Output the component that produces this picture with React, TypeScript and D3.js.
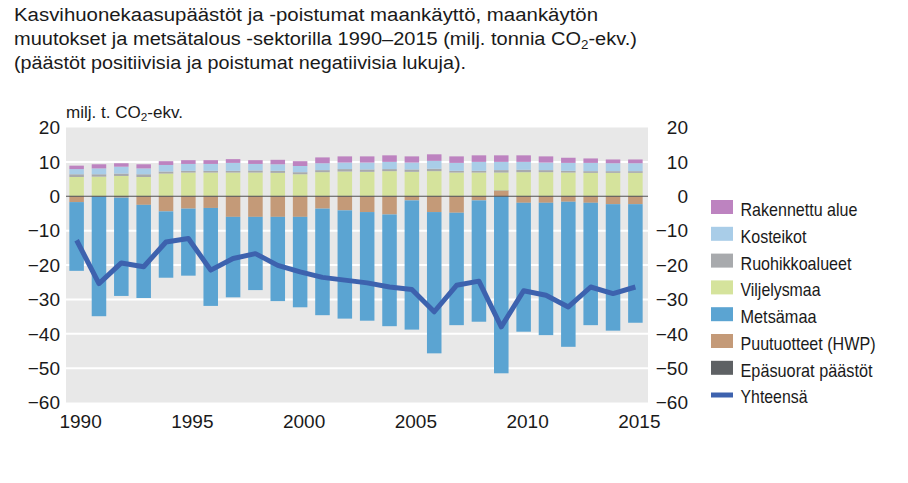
import React from 'react';
import * as d3 from 'd3';

const years = [1990,1991,1992,1993,1994,1995,1996,1997,1998,1999,2000,2001,2002,2003,2004,2005,2006,2007,2008,2009,2010,2011,2012,2013,2014,2015];
const rakennettu = [1.0,1.2,1.0,1.2,1.1,1.1,1.1,1.1,1.1,1.3,1.4,1.7,1.8,1.8,1.9,1.8,1.9,1.9,1.9,1.9,1.9,1.8,1.5,1.3,1.1,1.1];
const kosteikot = [1.5,1.7,2.0,1.7,1.9,2.0,2.0,2.3,1.9,1.9,1.8,2.0,1.9,2.0,2.1,2.0,2.3,2.3,2.6,2.4,2.3,2.2,2.3,2.4,2.3,2.3];
const ruohikko = [0.8,0.7,0.7,0.8,0.6,0.5,0.5,0.5,0.6,0.6,0.6,0.6,0.7,0.7,0.6,0.7,0.7,0.5,0.5,0.7,0.7,0.6,0.5,0.5,0.5,0.5];
const viljely = [5.5,5.6,5.8,5.5,6.5,6.8,6.8,6.8,6.8,6.7,6.3,6.9,7.1,7.0,7.2,7.0,7.2,6.8,6.8,5.2,6.9,6.9,6.8,6.7,6.7,6.7];
const metsa = [-20.0,-34.8,-28.6,-27.1,-19.3,-19.5,-28.5,-23.4,-21.3,-24.5,-26.3,-31.0,-31.5,-31.6,-32.5,-37.6,-41.1,-32.7,-35.3,-51.5,-37.5,-38.5,-42.2,-35.6,-36.8,-34.5];
const hwp = [-1.7,-0.1,-0.4,-2.5,-4.4,-3.6,-3.4,-6.0,-6.0,-6.0,-6.0,-3.6,-4.1,-4.6,-5.3,-1.2,-4.6,-4.8,-1.2,1.6,-1.9,-1.9,-1.6,-1.9,-2.3,-2.3];
const epasuorat = [0.1,0.1,0.1,0.1,0.1,0.1,0.1,0.1,0.1,0.1,0.1,0.1,0.1,0.1,0.1,0.1,0.1,0.1,0.1,0.1,0.1,0.1,0.1,0.1,0.1,0.1];
const yhteensa = [-12.8,-25.4,-19.4,-20.5,-13.3,-12.3,-21.5,-18.1,-16.7,-20.1,-22.0,-23.6,-24.4,-25.2,-26.4,-27.1,-33.6,-25.9,-24.7,-38.0,-27.5,-28.8,-32.2,-26.4,-28.3,-26.4];

const yTicks = [20,10,0,-10,-20,-30,-40,-50,-60];
const xTickYears = [1990,1995,2000,2005,2010,2015];

const seriesInfo = [
  { key: 'hwp', label: 'Puutuotteet (HWP)', color: '#c49a78', data: hwp },
  { key: 'epasuorat', label: 'Epäsuorat päästöt', color: '#5e6164', data: epasuorat },
  { key: 'viljely', label: 'Viljelysmaa', color: '#d5e39c', data: viljely },
  { key: 'ruohikko', label: 'Ruohikkoalueet', color: '#a8aaad', data: ruohikko },
  { key: 'kosteikot', label: 'Kosteikot', color: '#a9cde8', data: kosteikot },
  { key: 'rakennettu', label: 'Rakennettu alue', color: '#bd83c0', data: rakennettu },
  { key: 'metsa', label: 'Metsämaa', color: '#5ba4d2', data: metsa },
];

const legendItems = [
  { label: 'Rakennettu alue', color: '#bd83c0', w: 117 },
  { label: 'Kosteikot', color: '#a9cde8', w: 66 },
  { label: 'Ruohikkoalueet', color: '#a8aaad', w: 111 },
  { label: 'Viljelysmaa', color: '#d5e39c', w: 80 },
  { label: 'Metsämaa', color: '#5ba4d2', w: 76 },
  { label: 'Puutuotteet (HWP)', color: '#c49a78', w: 135 },
  { label: 'Epäsuorat päästöt', color: '#5e6164', w: 132 },
];

const totalColor = '#3d62ae';
const font = '"Liberation Sans", Arial, sans-serif';

export default function App() {
  const W = 908, H = 483;
  const plotL = 66, plotR = 648, plotT = 127.5, plotB = 402.5;
  const y = d3.scaleLinear().domain([-60, 20]).range([plotB, plotT]);
  const x = d3.scaleBand<number>().domain(years).range([66, 646]).paddingInner(0.35).paddingOuter(0.15);

  const table = years.map((yr, i) => {
    const o: any = { year: yr };
    seriesInfo.forEach(s => { o[s.key] = s.data[i]; });
    return o;
  });
  const stack = d3.stack<any>().keys(seriesInfo.map(s => s.key)).offset(d3.stackOffsetDiverging);
  const stacked = stack(table);

  const line = d3.line<number>()
    .x((_, i) => (x(years[i]) as number) + x.bandwidth() / 2)
    .y(d => y(d));

  const titleLines = [
    { t: 'Kasvihuonekaasupäästöt ja -poistumat maankäyttö, maankäytön', w: 584, yb: 21 },
    { t: null, w: 623, yb: 45 },
    { t: '(päästöt positiivisia ja poistumat negatiivisia lukuja).', w: 452, yb: 69 },
  ];

  return (
    <svg width={W} height={H} style={{ position: 'absolute', left: 0, top: 0, background: '#fff' }} fontFamily={font}>
      {/* Title */}
      <g fill="#1a1a1a" fontSize={18}>
        <text x={14} y={titleLines[0].yb} textLength={titleLines[0].w} lengthAdjust="spacingAndGlyphs">{titleLines[0].t}</text>
        <text x={14} y={titleLines[1].yb} textLength={titleLines[1].w} lengthAdjust="spacingAndGlyphs">
          muutokset ja metsätalous -sektorilla 1990–2015 (milj. tonnia CO<tspan fontSize={12} dy={4}>2</tspan><tspan dy={-4}>-ekv.)</tspan>
        </text>
        <text x={14} y={titleLines[2].yb} textLength={titleLines[2].w} lengthAdjust="spacingAndGlyphs">{titleLines[2].t}</text>
      </g>

      {/* Unit label */}
      <text x={66} y={118} fontSize={16} fill="#1a1a1a" textLength={117} lengthAdjust="spacingAndGlyphs">
        milj. t. CO<tspan fontSize={11} dy={3}>2</tspan><tspan dy={-3}>-ekv.</tspan>
      </text>

      {/* Plot background */}
      <rect x={plotL} y={plotT} width={plotR - plotL} height={plotB - plotT} fill="#e8e8e8" />
      {yTicks.filter(t => t !== 0 && t !== 20 && t !== -60).map(t => (
        <line key={t} x1={plotL} x2={plotR} y1={y(t)} y2={y(t)} stroke="#ffffff" strokeWidth={2} />
      ))}

      {/* Bars */}
      {stacked.map((layer, li) => (
        <g key={layer.key} fill={seriesInfo[li].color}>
          {layer.map((d, i) => {
            const y0 = y(d[0]), y1 = y(d[1]);
            return <rect key={i} x={x(years[i])} width={x.bandwidth()} y={Math.min(y0, y1)} height={Math.abs(y0 - y1)} />;
          })}
        </g>
      ))}

      {/* Zero line */}
      <line x1={plotL} x2={plotR} y1={y(0)} y2={y(0)} stroke="#555" strokeWidth={1.2} />

      {/* Total line */}
      <path d={line(yhteensa) || ''} fill="none" stroke={totalColor} strokeWidth={5} strokeLinejoin="round" strokeLinecap="butt" />

      {/* Y axis labels */}
      <g fontSize={19} fill="#1a1a1a">
        {yTicks.map(t => (
          <text key={'l' + t} x={60} y={y(t)} dy="0.36em" textAnchor="end">{t < 0 ? '\u2212' + Math.abs(t) : t}</text>
        ))}
        {yTicks.map(t => (
          <text key={'r' + t} x={688} y={y(t)} dy="0.36em" textAnchor="end">{t < 0 ? '\u2212' + Math.abs(t) : t}</text>
        ))}
        {xTickYears.map(yr => (
          <text key={yr} x={(x(yr) as number) + x.bandwidth() / 2 + 4} y={428} textAnchor="middle">{yr}</text>
        ))}
      </g>

      {/* Legend */}
      <g fontSize={19} fill="#1a1a1a">
        {legendItems.map((it, i) => {
          const yb = 216 + i * 26.8;
          return (
            <g key={it.label}>
              <rect x={711} y={yb - 16} width={22} height={14} fill={it.color} />
              <text x={740.5} y={yb} textLength={it.w} lengthAdjust="spacingAndGlyphs">{it.label}</text>
            </g>
          );
        })}
        <line x1={711} x2={733} y1={395} y2={395} stroke={totalColor} strokeWidth={5} />
        <text x={740.5} y={403.3} textLength={67} lengthAdjust="spacingAndGlyphs">Yhteensä</text>
      </g>
    </svg>
  );
}
